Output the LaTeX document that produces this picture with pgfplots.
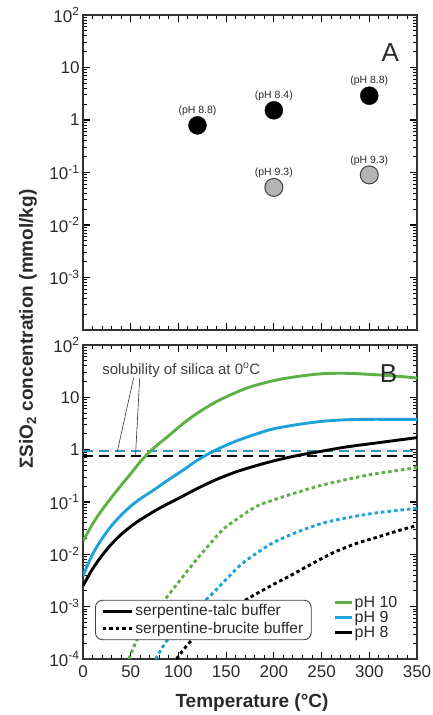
\documentclass[border=0pt]{standalone}
\usepackage{fontspec}
\setmainfont{Liberation Sans}
\usepackage{pgfplots}
\pgfplotsset{compat=1.18}
\definecolor{phgreen}{HTML}{5DB043}
\definecolor{phblue}{HTML}{1FA2DA}
\definecolor{dashblue}{HTML}{2F9AC8}
\definecolor{ptgray}{HTML}{B4B4B4}
\definecolor{txt}{HTML}{2A2A2A}

\tikzset{
  curve/.style={line width=2.9pt, smooth},
  dots/.style={line width=2.9pt, smooth, dash pattern=on 3.5pt off 3pt},
}

\begin{document}
\begin{tikzpicture}
% panel A: measured fluids
\begin{axis}[at={(0,329pt)},
  scale only axis, width=334pt, height=315pt,
  xmin=0, xmax=350, ymode=log, ymin=1e-4, ymax=1e2,
  xtick={0,50,100,150,200,250,300,350}, minor x tick num=4,
  ytick={1e-4,1e-3,1e-2,1e-1,1,10,100},
  minor ytick={2e-4,3e-4,4e-4,5e-4,6e-4,7e-4,8e-4,9e-4,2e-3,3e-3,4e-3,5e-3,6e-3,7e-3,8e-3,9e-3,0.02,0.03,0.04,0.05,0.06,0.07,0.08,0.09,0.2,0.3,0.4,0.5,0.6,0.7,0.8,0.9,2,3,4,5,6,7,8,9,20,30,40,50,60,70,80,90},
  tick align=inside,
  major tick length=7pt, minor tick length=4pt,
  major tick style={draw=black, line width=1.2pt},
  minor tick style={draw=black, line width=1pt},
  axis line style={line width=1.2pt, black!80},
  tick label style={font=\fontsize{17}{17}\selectfont, text=txt},
  xticklabels={},
  yticklabels={,10\textsuperscript{-3},10\textsuperscript{-2},10\textsuperscript{-1},1,10,10\textsuperscript{2}},
]
\addplot[only marks, mark=*, mark size=9pt, mark options={fill=black, draw=black},
  nodes near coords, point meta=explicit symbolic,
  every node near coord/.append style={font=\fontsize{10.5}{10.5}\selectfont, text=txt, anchor=center, yshift=14.5pt}]
  coordinates {(120,0.79) [(pH 8.8)] (200,1.53) [(pH 8.4)] (300,2.9) [(pH 8.8)]};
\addplot[only marks, mark=*, mark size=9pt, mark options={fill=ptgray, draw=black!75, line width=1pt},
  nodes near coords, point meta=explicit symbolic,
  every node near coord/.append style={font=\fontsize{10.5}{10.5}\selectfont, text=txt, anchor=center, yshift=14.5pt}]
  coordinates {(200,0.052) [(pH 9.3)] (300,0.09) [(pH 9.3)]};
\node[font=\fontsize{26}{26}\selectfont, text=txt] at (rel axis cs:0.92,0.88) {A};
\end{axis}

% panel B: model curves
\begin{axis}[
  scale only axis, width=334pt, height=314pt,
  xmin=0, xmax=350, ymode=log, ymin=1e-4, ymax=1e2,
  xtick={0,50,100,150,200,250,300,350}, minor x tick num=4,
  ytick={1e-4,1e-3,1e-2,1e-1,1,10,100},
  minor ytick={2e-4,3e-4,4e-4,5e-4,6e-4,7e-4,8e-4,9e-4,2e-3,3e-3,4e-3,5e-3,6e-3,7e-3,8e-3,9e-3,0.02,0.03,0.04,0.05,0.06,0.07,0.08,0.09,0.2,0.3,0.4,0.5,0.6,0.7,0.8,0.9,2,3,4,5,6,7,8,9,20,30,40,50,60,70,80,90},
  tick align=inside,
  major tick length=7pt, minor tick length=4pt,
  major tick style={draw=black, line width=1.2pt},
  minor tick style={draw=black, line width=1pt},
  axis line style={line width=1.2pt, black!80},
  tick label style={font=\fontsize{17}{17}\selectfont, text=txt},
  xticklabel style={yshift=-3pt},
  /pgf/number format/assume math mode=true,
  yticklabels={10\textsuperscript{-4},10\textsuperscript{-3},10\textsuperscript{-2},10\textsuperscript{-1},1,10,10\textsuperscript{2}},
]
% silica solubility at 0 C
\addplot[black, line width=1.8pt, dash pattern=on 10pt off 6pt] coordinates {(0,0.75) (350,0.75)};
\addplot[dashblue, line width=1.8pt, dash pattern=on 10pt off 6pt] coordinates {(0,0.93) (350,0.93)};
% serpentine-talc
\addplot[phgreen, curve] coordinates {
  (0,0.0178) (10,0.0380) (20,0.0708) (30,0.123) (40,0.209) (50,0.347) (60,0.589)
  (70,0.912) (80,1.32) (90,1.86) (105,3.16) (120,5.01) (140,8.32) (160,12.3)
  (175,15.8) (200,20.9) (225,25.1) (250,28.2) (275,28.8) (300,27.5) (325,25.7) (350,23.4)};
\addplot[phblue, curve] coordinates {
  (0,0.00389) (10,0.0100) (20,0.0200) (30,0.0355) (40,0.0562) (50,0.0832) (60,0.115)
  (75,0.174) (90,0.269) (105,0.407) (120,0.631) (140,1.0) (160,1.45) (185,2.09)
  (200,2.51) (225,3.02) (250,3.47) (275,3.72) (300,3.80) (325,3.80) (350,3.80)};
\addplot[black, curve] coordinates {
  (0,0.00251) (10,0.00525) (20,0.00955) (30,0.0158) (40,0.0240) (50,0.0339) (60,0.0457)
  (80,0.0759) (100,0.117) (120,0.182) (140,0.270) (160,0.375) (180,0.486) (200,0.612)
  (225,0.776) (250,0.933) (275,1.12) (300,1.29) (325,1.48) (350,1.70)};
% serpentine-brucite
\addplot[phgreen, dots] coordinates {
  (48,1e-4) (57,2.40e-4) (70,5.62e-4) (89,1.62e-3) (105,3.80e-3) (119,7.94e-3)
  (133,0.0158) (147,0.0302) (165,0.0525) (182,0.0832) (200,0.110) (227,0.158)
  (250,0.209) (276,0.269) (300,0.331) (325,0.389) (350,0.457)};
\addplot[phblue, dots] coordinates {
  (76,1e-4) (89,2.40e-4) (105,5.01e-4) (120,9.55e-4) (134,1.66e-3) (150,3.31e-3)
  (164,6.03e-3) (180,0.0100) (199,0.0166) (225,0.0269) (252,0.0398) (280,0.0513)
  (307,0.0617) (330,0.0692) (350,0.0759)};
\addplot[black, dots] coordinates {
  (98,1e-4) (105,1.48e-4) (115,2.40e-4) (130,4.17e-4) (150,7.94e-4) (165,1.17e-3)
  (178,1.62e-3) (200,2.69e-3) (217,3.89e-3) (240,6.61e-3) (262,0.0107) (285,0.0158)
  (307,0.0209) (330,0.0282) (350,0.0355)};
\node[font=\fontsize{15}{15}\selectfont, text=black!75] at (axis cs:103,33) {solubility of silica at 0\textsuperscript{o}C};
\draw[black!80, line width=0.6pt] (axis cs:53,23.4) -- (axis cs:36,0.93);
\draw[black!80, line width=0.6pt] (axis cs:59.4,23.4) -- (axis cs:55,0.75);
\node[font=\fontsize{26}{26}\selectfont, text=txt] at (rel axis cs:0.915,0.91) {B};
\end{axis}

% buffer legend
\begin{axis}[scale only axis, width=334pt, height=314pt, hide axis,
  xmin=0, xmax=1, ymin=0, ymax=1,
  legend image code/.code={\draw[#1] (0pt,0pt) -- (29pt,0pt);},
  legend style={at={(0.036,0.06)}, anchor=south west, draw=black!75, line width=0.9pt,
    rounded corners=7pt, fill=white, font=\fontsize{15.5}{17}\selectfont, text=txt,
    inner xsep=6pt, inner ysep=2.5pt, row sep=1pt},
  legend cell align=left,
]
\addlegendimage{black, line width=3pt}
\addlegendentry{serpentine-talc buffer}
\addlegendimage{black, line width=3pt, dash pattern=on 3.5pt off 3pt}
\addlegendentry{serpentine-brucite buffer\hspace{4pt}}
\end{axis}

% pH legend
\begin{axis}[scale only axis, width=334pt, height=314pt, hide axis,
  xmin=0, xmax=1, ymin=0, ymax=1,
  legend image code/.code={\draw[#1] (0pt,0pt) -- (17pt,0pt);},
  legend style={at={(0.75,0.205)}, anchor=north west, draw=none, fill=none,
    font=\fontsize{16}{17}\selectfont, text=txt, inner sep=0pt, row sep=0.5pt,
    nodes={inner xsep=1pt, inner ysep=1pt}},
  legend cell align=left,
]
\addlegendimage{phgreen, line width=3pt}
\addlegendentry{pH 10}
\addlegendimage{phblue, line width=3pt}
\addlegendentry{pH 9}
\addlegendimage{black, line width=3pt}
\addlegendentry{pH 8}
\end{axis}

\node[rotate=90, font=\bfseries\fontsize{19}{19}\selectfont, text=txt] at (-55pt,330pt)
  {ΣSiO\textsubscript{2} concentration (mmol/kg)};
\node[font=\bfseries\fontsize{19}{19}\selectfont, text=txt] at (169pt,-44pt) {Temperature (°C)};

\pgfresetboundingbox
\path (-83pt,-56pt) rectangle (350pt,659pt);
\end{tikzpicture}
\end{document}
